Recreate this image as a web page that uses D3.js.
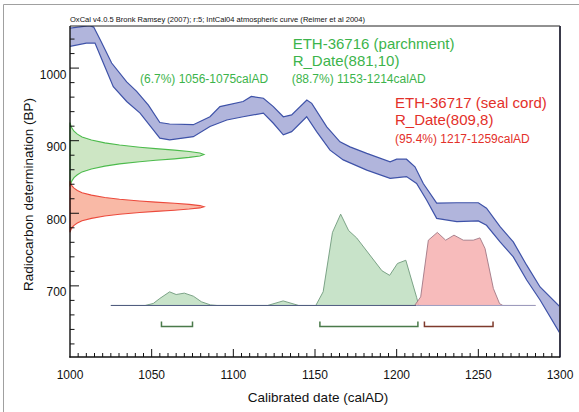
<!DOCTYPE html>
<html><head><meta charset="utf-8">
<script src="https://cdn.jsdelivr.net/npm/d3@7"></script>
<style>
body{margin:0;background:#fff}
svg{display:block}
text{font-family:"Liberation Sans",Arial,Helvetica,sans-serif}
</style>
</head><body>
<svg id="c" width="579" height="412"></svg>
<script>
// ---- data ----
const titleText = "OxCal v4.0.5 Bronk Ramsey (2007); r:5; IntCal04 atmospheric curve (Reimer et al 2004)";
const xLabel = "Calibrated date (calAD)";
const yLabel = "Radiocarbon determination (BP)";
const xTickValues = [1000, 1050, 1100, 1150, 1200, 1250, 1300];
const yTickValues = [700, 800, 900, 1000];

// IntCal04 band: upper (older) edge and lower (younger) edge
const upperYears = [1000,1012,1014.5,1018.5,1025.5,1034.7,1040.8,1048,1055,1061,1075.5,1085.7,1091.8,1106,1111,1118.4,1124.5,1130.6,1135.7,1145,1148,1157.2,1165.3,1171.4,1181.7,1196,1200,1206,1211.2,1216.3,1224.5,1236.8,1250,1255,1263.3,1271.4,1279.6,1287.8,1300];
const upperBP    = [1055,1058.5,1056.5,1039,1007,981,968,949,925,923,922,933,947,954,961,958.5,947,933,935.5,956,951.5,919,898.5,891.5,882.5,871,874.5,874.5,864,841,814,814.5,814.5,807,781.5,760.5,728.5,698.5,671];
const lowerYears = [1000,1010,1015.3,1020.4,1026.5,1034.7,1042.9,1051,1055,1061,1075.5,1085.7,1096,1106,1118.4,1124.5,1130.6,1135.7,1144.9,1151,1159.2,1167.3,1181.7,1196,1206,1212.2,1218.4,1224.5,1236.8,1250,1255,1263.3,1271.4,1279.6,1287.8,1300];
const lowerBP    = [1030,1034.5,1034.5,1007,974.5,954,938,915,903.5,901,905.5,919.5,928.5,933,938,924,908,912.5,933,912.5,887,873.5,859.5,848,850.5,841,818,793,788.5,789.5,783.5,760.5,740,708,680.5,634.5];

// Measurements R_Date(mean, sigma)
const sampleNames = ["ETH-36716 (parchment)", "ETH-36717 (seal cord)"];
const sampleMeans = [881, 809];
const sampleSigmas = [10, 8];
const profileSigma   = [-4.4,-4,-3.6,-3.2,-2.8,-2.4,-2,-1.6,-1.3,-1,-0.8,-0.6,-0.4,-0.2,0,0.2,0.4,0.6,0.8,1,1.3,1.6,2,2.4,2.8,3.2,3.6,4,4.4];
const profileDensity = [0,0.006,0.015,0.03,0.055,0.09,0.16,0.26,0.37,0.52,0.64,0.78,0.89,0.97,1,0.97,0.89,0.78,0.64,0.52,0.37,0.26,0.16,0.09,0.055,0.03,0.015,0.006,0];

// calibrated probability (relative %) for each sample
const greenCalYears = [1025,1046,1051,1055,1061,1065,1070,1075.5,1080.5,1086,1090,1121,1130.5,1140,1150.5,1155,1160.7,1165.7,1170.6,1175.5,1191,1195.7,1200.5,1205.6,1212.2,1213.5,1215];
const greenCalProb  = [0,0,2.2,7.7,14.9,12,13.5,10.2,4,0.6,0,0,5,0,0,15,80,100,82,74,38,33,46,49.5,9,0,0];
const redCalYears = [1190,1211,1214.7,1219.4,1224.9,1230,1235.1,1240.8,1246.9,1251,1254.1,1259.2,1263,1265,1285];
const redCalProb  = [0,0,9.4,71.5,80,71.5,77,71.5,71.5,74,62.4,18.6,2,0,0];

// highest probability ranges
const rangeLabels = ["(6.7%) 1056-1075calAD", "(88.7%) 1153-1214calAD", "(95.4%) 1217-1259calAD"];
const rangeStart = [1056, 1153, 1217];
const rangeEnd   = [1075, 1213, 1259];
const rangeSample = [0, 0, 1];

// ---- drawing ----
const svg = d3.select("#c");
const x = d3.scaleLinear().domain([1000, 1300]).range([70, 560]);
const y = d3.scaleLinear().domain([602, 1058]).range([357, 26]);
const calBase = 673, calTop = 798.8;
const p = d3.scaleLinear().domain([0, 100]).range([y(calBase), y(calTop)]);
const dens = d3.scaleLinear().domain([0, 1]).range([x(1000), x(1082)]);

const textCol = ["#3cb44b", "#e3302a"];
const measFill = ["#cde6c4", "#f9b9a6"];
const measStroke = ["#4cbb4c", "#ec4a3c"];
const calFill = ["#c5e2c6", "#f6b4b4"];
const calStroke = ["#6f9a7c", "#a07784"];
const bracketCol = ["#4a7a4a", "#7e3a2c"];

// outer border
svg.append("path").attr("d", "M3.5,412 V4.5 H579").attr("fill", "none").attr("stroke", "#a0a0a0");

svg.append("defs").append("clipPath").attr("id", "plot")
  .append("rect").attr("x", 70).attr("y", 26).attr("width", 490).attr("height", 331);

// calibration curve band
const upperPts = upperYears.map((yr, i) => [x(yr), y(upperBP[i])]);
const lowerPts = lowerYears.map((yr, i) => [x(yr), y(lowerBP[i])]);
const line = d3.line();
const g = svg.append("g").attr("clip-path", "url(#plot)");
g.append("path").attr("d", line(upperPts.concat(lowerPts.slice().reverse())) + "Z")
  .attr("fill", "#b1b5dc").attr("stroke", "none");
g.append("path").attr("d", line(upperPts)).attr("fill", "none").attr("stroke", "#3e52a8").attr("stroke-width", 1.2);
g.append("path").attr("d", line(lowerPts)).attr("fill", "none").attr("stroke", "#3e52a8").attr("stroke-width", 1.2);

// calibrated distributions
const calArea = d3.area().x(d => x(d[0])).y0(p(0)).y1(d => p(d[1]));
const calLine = d3.line().x(d => x(d[0])).y(d => p(d[1]));
[[greenCalYears, greenCalProb], [redCalYears, redCalProb]].forEach(([yrs, pr], k) => {
  const pts = yrs.map((yr, i) => [yr, pr[i]]);
  svg.append("path").attr("d", calArea(pts)).attr("fill", calFill[k]).attr("fill-opacity", k === 1 ? 0.9 : 0.95);
  svg.append("path").attr("d", calLine(pts)).attr("fill", "none").attr("stroke", calStroke[k]).attr("stroke-width", 0.9);
});
svg.append("line").attr("x1", x(greenCalYears[0])).attr("x2", x(1212)).attr("y1", p(0)).attr("y2", p(0))
  .attr("stroke", "#4f5a80").attr("stroke-width", 1);
svg.append("line").attr("x1", x(1212)).attr("x2", x(redCalYears[redCalYears.length - 1])).attr("y1", p(0)).attr("y2", p(0))
  .attr("stroke", "#9c9cc0").attr("stroke-width", 1);

// range brackets
const bY = y(644), bH = 5;
rangeStart.forEach((s, i) => {
  const x0 = x(s), x1 = x(rangeEnd[i]);
  svg.append("path").attr("d", `M${x0},${bY - bH} V${bY} H${x1} V${bY - bH}`)
    .attr("fill", "none").attr("stroke", bracketCol[rangeSample[i]]).attr("stroke-width", 1.5);
});

// measurement likelihoods on the y axis
sampleMeans.forEach((m, k) => {
  const pts = profileSigma.map((s, i) => [dens(profileDensity[i]), y(m + s * sampleSigmas[k])]);
  svg.append("path").attr("d", line(pts) + "Z").attr("fill", measFill[k]).attr("stroke", measStroke[k]).attr("stroke-width", 1.1);
});

// frame
svg.append("line").attr("x1", 70).attr("x2", 560).attr("y1", 26).attr("y2", 26).attr("stroke", "#222").attr("stroke-width", 1);
svg.append("line").attr("x1", 560).attr("x2", 560).attr("y1", 26).attr("y2", 357.5).attr("stroke", "#3a3a4a").attr("stroke-width", 2);
svg.append("line").attr("x1", 70).attr("x2", 70).attr("y1", 26).attr("y2", 357.5).attr("stroke", "#111").attr("stroke-width", 1.4);
svg.append("line").attr("x1", 69.3).attr("x2", 560).attr("y1", 357).attr("y2", 357).attr("stroke", "#111").attr("stroke-width", 1.4);

// x ticks
d3.range(1005, 1300, 5).forEach(v => {
  const major = v % 50 === 0;
  svg.append("line").attr("x1", x(v)).attr("x2", x(v)).attr("y1", 357).attr("y2", 357 - (major ? 8 : 4))
    .attr("stroke", "#111").attr("stroke-width", 1);
});
xTickValues.forEach(v => {
  svg.append("text").attr("x", x(v)).attr("y", 378.5).attr("text-anchor", "middle")
    .attr("font-size", 12).attr("fill", "#111").text(v);
});
// y ticks
d3.range(620, 1058, 20).forEach(v => {
  const major = v % 100 === 0;
  svg.append("line").attr("x1", 70).attr("x2", 70 + (major ? 9 : 4.5)).attr("y1", y(v)).attr("y2", y(v))
    .attr("stroke", "#111").attr("stroke-width", 1);
});
yTickValues.forEach(v => {
  svg.append("text").attr("x", 66.5).attr("y", y(v) + 10.5).attr("text-anchor", "end")
    .attr("font-size", 12).attr("fill", "#111").text(v);
});

// titles
svg.append("text").attr("x", 70).attr("y", 21.5).attr("font-size", 8).attr("fill", "#111")
  .attr("textLength", 295).attr("lengthAdjust", "spacingAndGlyphs").text(titleText);
svg.append("text").attr("x", 318).attr("y", 401.5).attr("text-anchor", "middle")
  .attr("font-size", 13.5).attr("fill", "#111").text(xLabel);
svg.append("text").attr("transform", "translate(33,194.5) rotate(-90)").attr("text-anchor", "middle")
  .attr("font-size", 13.5).attr("fill", "#111").text(yLabel);

// annotations
const ann = [
  [sampleNames[0], 292.7, 49, 15, 0],
  [`R_Date(${sampleMeans[0]},${sampleSigmas[0]})`, 292.7, 66, 15, 0],
  [rangeLabels[1], 291.7, 82.8, 12, 0],
  [rangeLabels[0], 140, 83, 12, 0],
  [sampleNames[1], 395, 108, 15, 1],
  [`R_Date(${sampleMeans[1]},${sampleSigmas[1]})`, 395, 124.7, 15, 1],
  [rangeLabels[2], 395, 142.5, 12, 1]
];
ann.forEach(([t, ax, ay, fs, k]) => {
  svg.append("text").attr("x", ax).attr("y", ay).attr("font-size", fs).attr("fill", textCol[k]).text(t);
});
</script>
</body></html>
